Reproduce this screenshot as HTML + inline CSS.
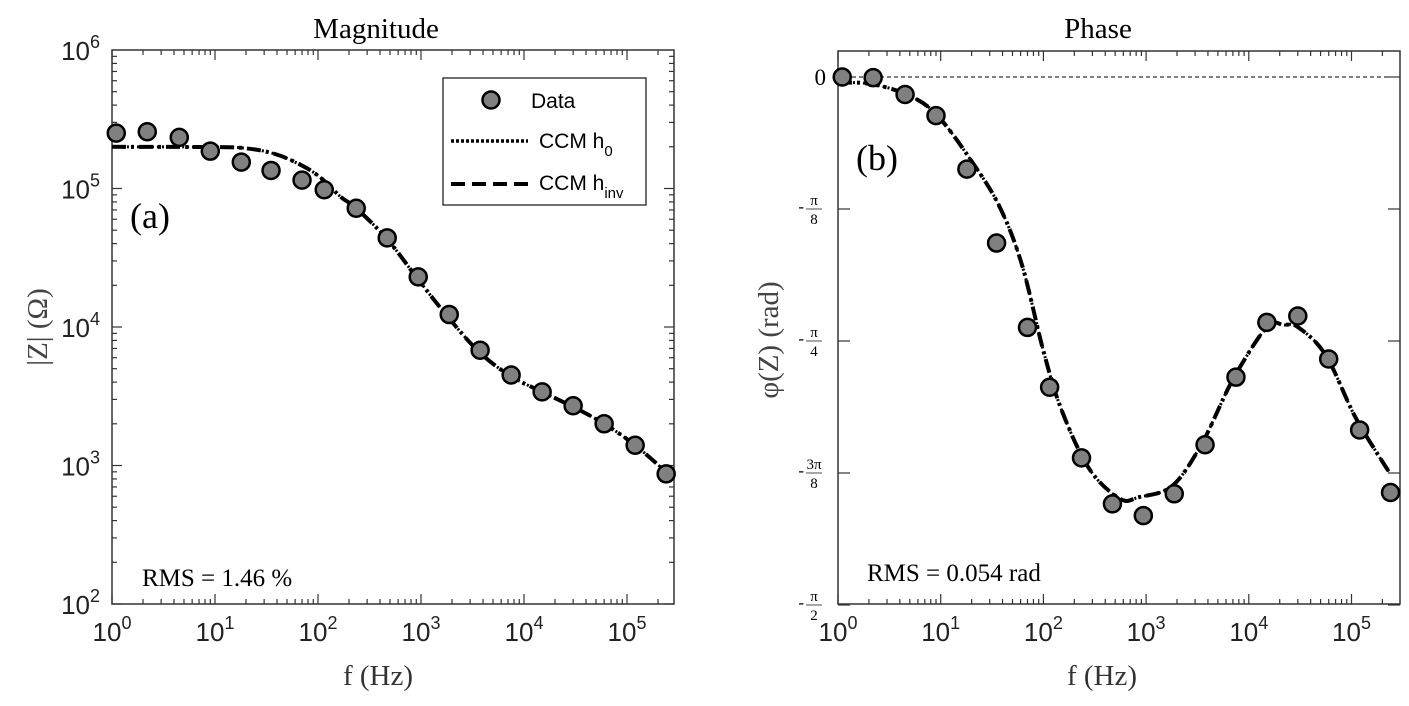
<!DOCTYPE html>
<html><head><meta charset="utf-8">
<style>
html,body{margin:0;padding:0;background:#fff;}
svg{display:block;}
.ser{font-family:"Liberation Serif",serif;}
.san{font-family:"Liberation Sans",sans-serif;}
</style></head>
<body>
<svg id="fig" width="1409" height="706" viewBox="0 0 1409 706" xmlns="http://www.w3.org/2000/svg">
<g id="magPlot"></g>
<g id="phPlot"></g>
</svg>
<script>
// ---- data ----
const freqs = [1.1,2.2,4.5,9,18,35,70,115,235,470,940,1880,3750,7500,15000,30000,60000,120000,240000];
const magData = [251000,257000,234000,186000,155000,135000,115000,98000,72000,44000,23000,12300,6800,4500,3400,2700,2000,1400,870];
const phaseData = [0,-0.002,-0.052,-0.115,-0.274,-0.494,-0.745,-0.923,-1.133,-1.270,-1.305,-1.240,-1.094,-0.893,-0.730,-0.711,-0.839,-1.050,-1.236];
const magFitF = [1,10,20,36,60,100,166,235,470,940,1880,3750,7500,15000,30000,60000,120000,260000];
const magFit = [200000,199000,195000,180000,155000,124000,87000,72000,43000,22000,11500,6500,4400,3400,2650,2000,1400,850];
const phFitF = [1,2,4.5,9,21,38,62,100,150,280,560,850,1800,3500,7000,15000,22000,30000,56000,110000,235000];
const phFit = [-0.017,-0.02,-0.05,-0.11,-0.26,-0.39,-0.56,-0.815,-0.99,-1.166,-1.255,-1.25,-1.216,-1.09,-0.90,-0.744,-0.738,-0.744,-0.827,-1.014,-1.178];
const xTickExp = [0,1,2,3,4,5];
const magTickExp = [2,3,4,5,6];
const phTickLabels = [["0",""],["π","8"],["π","4"],["3π","8"],["π","2"]];

const NS="http://www.w3.org/2000/svg";
function mk(p,tag,attrs,txt){const e=document.createElementNS(NS,tag);for(const k in attrs)e.setAttribute(k,attrs[k]);if(txt!==undefined)e.textContent=txt;p.appendChild(e);return e;}

function smooth(pts){
  let d="M"+pts[0][0]+","+pts[0][1];
  for(let i=0;i<pts.length-1;i++){
    const p0=pts[i-1]||pts[i],p1=pts[i],p2=pts[i+1],p3=pts[i+2]||p2;
    const c1=[p1[0]+(p2[0]-p0[0])/6,p1[1]+(p2[1]-p0[1])/6];
    const c2=[p2[0]-(p3[0]-p1[0])/6,p2[1]-(p3[1]-p1[1])/6];
    d+=" C"+c1[0]+","+c1[1]+" "+c2[0]+","+c2[1]+" "+p2[0]+","+p2[1];
  }
  return d;
}

function logXTicks(g,x,L,R,T,B){
  for(let e=0;e<=5;e++){
    for(let m=1;m<=9;m++){
      const X=x(m*Math.pow(10,e)); if(X>R)continue;
      const len=m===1?10:5;
      mk(g,'line',{x1:X,y1:B,x2:X,y2:B-len,stroke:'#333','stroke-width':1.2});
      mk(g,'line',{x1:X,y1:T,x2:X,y2:T+len,stroke:'#333','stroke-width':1.2});
    }
  }
  xTickExp.forEach(e=>{
    const X=x(Math.pow(10,e));
    const t=mk(g,'text',{x:X,y:B+37,'text-anchor':'middle','font-size':26,class:'san',fill:'#222'});
    
    
    mk(t,'tspan',{},"10");mk(t,'tspan',{dy:-12,'font-size':18},String(e));
  });
}

// ===== Magnitude =====
(function(){
  const g=document.getElementById('magPlot');
  const L=112,R=674,T=50,B=604;
  const dec=103;
  const x=f=>L+Math.log10(f)*dec;
  const y=v=>T+(6-Math.log10(v))*(B-T)/4;
  mk(g,'rect',{x:L,y:T,width:R-L,height:B-T,fill:'none',stroke:'#333','stroke-width':1.5});
  logXTicks(g,x,L,R,T,B);
  for(let e=2;e<6;e++)for(let m=1;m<=9;m++){
    const Y=y(m*Math.pow(10,e));const len=m===1?10:5;
    mk(g,'line',{x1:L,y1:Y,x2:L+len,y2:Y,stroke:'#333','stroke-width':1.2});
    mk(g,'line',{x1:R,y1:Y,x2:R-len,y2:Y,stroke:'#333','stroke-width':1.2});
  }
  magTickExp.forEach(e=>{
    const t=mk(g,'text',{x:L-12,y:y(Math.pow(10,e))+10,'text-anchor':'end','font-size':26,class:'san',fill:'#222'});
    
    
    mk(t,'tspan',{},"10");mk(t,'tspan',{dy:-12,'font-size':18},String(e));
  });
  const ti=mk(g,'text',{x:376,y:38,'text-anchor':'middle','font-size':29,class:'ser'},"Magnitude");
  
  const xl=mk(g,'text',{x:378,y:685,'text-anchor':'middle','font-size':29,class:'ser',fill:'#333'},"f (Hz)");
  
  const yl=mk(g,'text',{x:0,y:0,'text-anchor':'middle','font-size':29,class:'ser',fill:'#444',transform:'translate(47,327) rotate(-90)'},"|Z| (Ω)");
  
  const pl=mk(g,'text',{x:130,y:228,'font-size':36,class:'ser'},"(a)");
  
  const rms=mk(g,'text',{x:142,y:586,'font-size':25,class:'ser'},"RMS = 1.46 %");
  
  const pts=magFitF.map((f,i)=>[x(f),y(magFit[i])]);
  const c1=mk(g,'path',{d:smooth(pts),fill:'none',stroke:'#000','stroke-width':3,'stroke-dasharray':'2 3'});
  
  const c2=mk(g,'path',{d:smooth(pts),fill:'none',stroke:'#000','stroke-width':4,'stroke-dasharray':'14 5 3 5'});
  
  freqs.forEach((f,i)=>{
    const c=mk(g,'circle',{cx:x(f),cy:y(magData[i]),r:8.5,fill:'#808080',stroke:'#000','stroke-width':2.5});
    
  });
  // legend
  const lg=mk(g,'g',{});
  
  mk(lg,'rect',{x:443,y:78,width:203,height:127,fill:'#fff',stroke:'#222','stroke-width':1.3});
  mk(lg,'circle',{cx:491,cy:100,r:8.5,fill:'#808080',stroke:'#000','stroke-width':2.5});
  mk(lg,'text',{x:531,y:108,'font-size':21,class:'san'},"Data");
  mk(lg,'line',{x1:451,y1:141,x2:528,y2:141,stroke:'#000','stroke-width':3.5,'stroke-dasharray':'3 2'});
  const t1=mk(lg,'text',{x:539,y:148,'font-size':21,class:'san'},"CCM h");mk(t1,'tspan',{dy:8,'font-size':15},"0");
  mk(lg,'line',{x1:451,y1:184,x2:528,y2:184,stroke:'#000','stroke-width':4,'stroke-dasharray':'14 7'});
  const t2=mk(lg,'text',{x:539,y:190,'font-size':21,class:'san'},"CCM h");mk(t2,'tspan',{dy:8,'font-size':15},"inv");
})();

// ===== Phase =====
(function(){
  const g=document.getElementById('phPlot');
  const L=838,R=1400,T=51,B=604;
  const dec=102.7;
  const x=f=>L+Math.log10(f)*dec;
  const step=132;
  const y0=77;
  const y=v=>y0-v/(Math.PI/8)*step;
  mk(g,'rect',{x:L,y:T,width:R-L,height:B-T,fill:'none',stroke:'#333','stroke-width':1.5});
  logXTicks(g,x,L,R,T,B);
  const z=mk(g,'line',{x1:L,y1:y0,x2:R,y2:y0,stroke:'#000','stroke-width':1,'stroke-dasharray':'4 3'});
  
  phTickLabels.forEach((lab,i)=>{
    const Y=y(-i*Math.PI/8);
    mk(g,'line',{x1:L,y1:Y,x2:L+12,y2:Y,stroke:'#333','stroke-width':1.2});
    mk(g,'line',{x1:R,y1:Y,x2:R-12,y2:Y,stroke:'#333','stroke-width':1.2});
    const tg=mk(g,'g',{});
    
    
    if(lab[1]===""){mk(tg,'text',{x:L-12,y:Y+8,'text-anchor':'end','font-size':23,class:'ser'},lab[0]);}
    else{
      const cx=L-24;
      mk(tg,'text',{x:cx-10,y:Y+3,'text-anchor':'end','font-size':17,class:'ser'},"-");
      mk(tg,'text',{x:cx,y:Y-4,'text-anchor':'middle','font-size':15,class:'ser'},lab[0]);
      mk(tg,'line',{x1:cx-8,y1:Y,x2:cx+8,y2:Y,stroke:'#000','stroke-width':0.7});
      mk(tg,'text',{x:cx,y:Y+15,'text-anchor':'middle','font-size':15,class:'ser'},lab[1]);
    }
  });
  const ti=mk(g,'text',{x:1098,y:38,'text-anchor':'middle','font-size':29,class:'ser'},"Phase");
  
  const xl=mk(g,'text',{x:1102,y:685,'text-anchor':'middle','font-size':29,class:'ser',fill:'#333'},"f (Hz)");
  
  const yl=mk(g,'text',{x:0,y:0,'text-anchor':'middle','font-size':29,class:'ser',fill:'#444',transform:'translate(778,340) rotate(-90)'},"φ(Z) (rad)");
  
  const pl=mk(g,'text',{x:856,y:170,'font-size':36,class:'ser'},"(b)");
  
  const rms=mk(g,'text',{x:867,y:581,'font-size':25,class:'ser'},"RMS = 0.054 rad");
  
  const pts=phFitF.map((f,i)=>[x(f),y(phFit[i])]);
  const c1=mk(g,'path',{d:smooth(pts),fill:'none',stroke:'#000','stroke-width':3,'stroke-dasharray':'2 3'});
  
  const c2=mk(g,'path',{d:smooth(pts),fill:'none',stroke:'#000','stroke-width':4,'stroke-dasharray':'14 5 3 5'});
  
  freqs.forEach((f,i)=>{
    const c=mk(g,'circle',{cx:x(f),cy:y(phaseData[i]),r:8.5,fill:'#808080',stroke:'#000','stroke-width':2.5});
    
  });
})();
</script>
</body></html>
